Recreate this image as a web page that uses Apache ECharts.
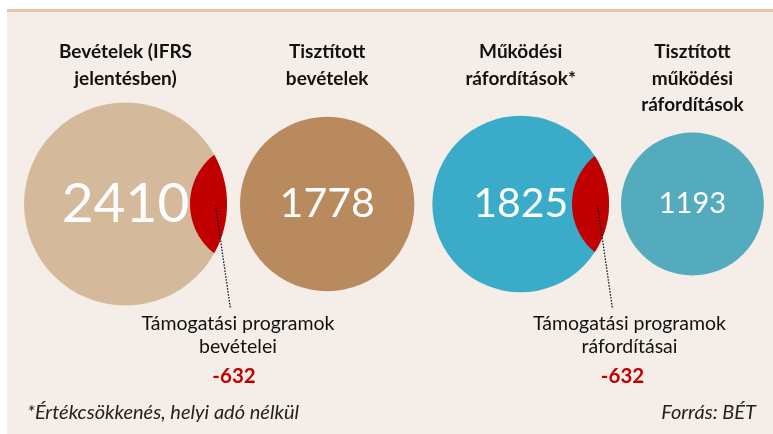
<!DOCTYPE html>
<html>
<head>
<meta charset="utf-8">
<script src="https://cdn.jsdelivr.net/npm/echarts@6.0.0/dist/echarts.min.js"></script>
</head>
<body style="margin:0">
<div id="container" style="width:773px;height:434px"></div>
<script>
// adatok
var headers = ['Bevételek (IFRS\njelentésben)', 'Tisztított\nbevételek', 'Működési\nráfordítások*', 'Tisztított\nműködési\nráfordítások'];
var values = [2410, 1778, 1825, 1193];
var support = [632, 0, 632, 0];
var supportLabels = ['Támogatási programok\nbevételei', '', 'Támogatási programok\nráfordításai', ''];
var footnote = '*Értékcsökkenés, helyi adó nélkül';
var source = 'Forrás: BÉT';

// stílus
var circleColors = ['#d5b99b', '#b98a5e', '#3aabc9', '#53abbd'];
var numberSizes = [55, 41, 41, 29];
var gaps = [13, 18, 12];
var labelShift = [29.5, 0, 39, 0];
var valueShift = [25.5, 0, 32, 0];
var R_MAX = 101.5;
var CY = 204;
var FONT = 'Lato, "Open Sans", sans-serif';

var maxVal = Math.max.apply(null, values);
function radius(v) { return R_MAX * Math.sqrt(v / maxVal); }

var centers = [];
var x = 24;
values.forEach(function (v, i) {
    var r = radius(v);
    x += r;
    centers.push(x);
    x += r + (gaps[i] || 0);
});

var seriesData = values.map(function (v, i) {
    return [centers[i], CY, v, support[i], i];
});

function renderItem(params, api) {
    var i = api.value(4);
    var c = api.coord([api.value(0), api.value(1)]);
    var ra = api.size([radius(api.value(2)), 0])[0];
    var red = api.value(3);
    var children = [];
    children.push({
        type: 'circle',
        shape: {cx: c[0], cy: c[1], r: ra},
        style: {fill: circleColors[i]}
    });
    children.push({
        type: 'text',
        x: c[0], y: c[1],
        style: {
            text: String(api.value(2)), fill: '#fff',
            font: numberSizes[i] + 'px ' + FONT,
            align: 'center', verticalAlign: 'middle'
        }
    });
    children.push({
        type: 'text',
        x: c[0], y: 52 - 13,
        style: {
            text: headers[i], fill: '#111',
            font: 'bold 19px ' + FONT, lineHeight: 26.5,
            align: 'center', verticalAlign: 'top'
        }
    });
    if (red > 0) {
        // lencse: a levont rész
        var rs = api.size([radius(red) * 1.2, 0])[0];
        var depth = 37;
        var ax = c[0], cy = c[1];
        var bx = ax + ra - depth + rs;
        var d = bx - ax;
        var ix = (ra * ra - rs * rs + d * d) / (2 * d) + ax;
        var h = Math.sqrt(ra * ra - (ix - ax) * (ix - ax));
        var ta = Math.atan2(h, ix - ax);
        var tb = Math.atan2(h, bx - ix);
        var pts = [];
        var n = 40, k, t;
        for (k = 0; k <= n; k++) {
            t = -ta + 2 * ta * k / n;
            pts.push([ax + ra * Math.cos(t), cy + ra * Math.sin(t)]);
        }
        for (k = 0; k <= n; k++) {
            t = Math.PI - tb + 2 * tb * k / n;
            pts.push([bx + rs * Math.cos(t), cy + rs * Math.sin(t)]);
        }
        children.push({
            type: 'polygon',
            shape: {points: pts},
            style: {fill: '#c00000'}
        });
        var mid = ax + ra - depth / 2;
        children.push({
            type: 'line',
            shape: {x1: mid + 7, y1: cy + 1, x2: mid + 22, y2: 309},
            style: {stroke: '#111', lineWidth: 1.3, lineDash: [1.5, 1.5]}
        });
        children.push({
            type: 'text',
            x: mid + labelShift[i], y: 324 - 11.5,
            style: {
                text: supportLabels[i], fill: '#111',
                font: '19.5px ' + FONT, lineHeight: 23,
                align: 'center', verticalAlign: 'top'
            }
        });
        children.push({
            type: 'text',
            x: mid + valueShift[i], y: 376,
            style: {
                text: '-' + red, fill: '#c00000',
                font: 'bold 20.5px ' + FONT,
                align: 'center', verticalAlign: 'middle'
            }
        });
    }
    return {type: 'group', children: children};
}

var myChart = echarts.init(document.getElementById('container'));
var option = {
    animation: false,
    backgroundColor: '#ffffff',
    graphic: [
        {type: 'rect', z: -10, shape: {x: 7, y: 12, width: 766, height: 422}, style: {fill: '#f5eee8'}},
        {type: 'rect', z: -10, shape: {x: 7, y: 9, width: 766, height: 3}, style: {fill: '#eac4a6'}},
        {type: 'text', left: 27, top: 403, style: {text: footnote, fill: '#222', font: 'italic 20px ' + FONT}},
        {type: 'text', right: 17, top: 403, style: {text: source, fill: '#222', font: 'italic 20px ' + FONT}}
    ],
    grid: {left: 0, right: 0, top: 0, bottom: 0},
    xAxis: {type: 'value', min: 0, max: 773, show: false},
    yAxis: {type: 'value', min: 0, max: 434, inverse: true, show: false},
    series: [{
        type: 'custom',
        renderItem: renderItem,
        data: seriesData,
        clip: false
    }]
};
myChart.setOption(option);
</script>
</body>
</html>
